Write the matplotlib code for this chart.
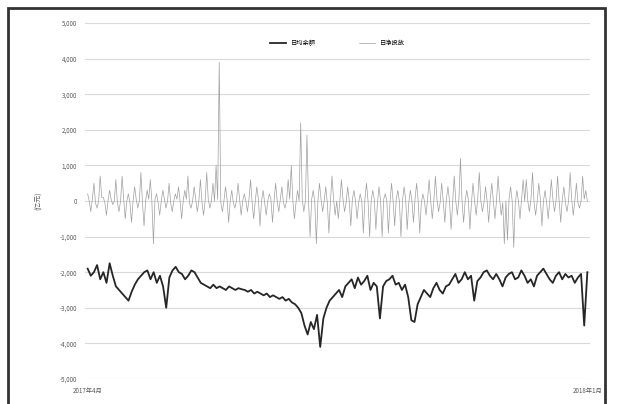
import numpy as np
import matplotlib
matplotlib.use('Agg')
import matplotlib.pyplot as plt
from matplotlib.patches import Rectangle

plt.rcParams['font.family'] = ['Noto Sans CJK SC', 'DejaVu Sans']

# valeurs (en 亿元)
daily_net = [200, 0, -300, 50, 500, -50, -200, 0, 700, 100, 100, -50, -400, 0, 300, 50, -100, 0, 600, -50,
             -300, 0, 700, 50, -500, 0, 200, -50, -600, 0, 400, 50, -200, 0, 800, -50, -700, 0, 300, 50,
             600, 0, -1200, 50, 200, -50, -400, 0, 300, 50, -200, 0, 500, -50, -300, 0, 200, 50, 400, 0,
             -500, 0, 300, 50, 700, -50, -200, 0, 400, 50, -300, 0, 600, -50, -400, 0, 800, 50, -200, 0,
             500, 0, 1000, 50, 3900, -50, -300, 0, 400, 50, -600, 0, 300, -50, -200, 0, 500, 50, -400, 0,
             200, 0, -300, 50, 600, -50, -500, 0, 400, 50, -700, 0, 300, -50, -400, 0, 200, 50, -600, 0,
             500, 0, -300, 50, 400, -50, -200, 0, 600, 50, 1000, 0, -500, -50, 300, 0, 2200, 50, -300, 0,
             1850, 0, -1000, 50, 300, -50, -1200, 0, 500, 50, -300, 0, 400, -50, -900, 0, 700, 50, -400, 0,
             -500, 0, 600, 50, -300, -50, 400, 0, -700, 50, 300, 0, -500, -50, 200, 0, -900, 50, 500, 0,
             -1000, 0, 300, 50, -800, -50, 400, 0, -1000, 50, 200, 0, -900, -50, 500, 0, -700, 50, 300, 0,
             -1000, 0, 400, 50, -800, -50, 300, 0, -600, 50, 500, 0, -900, -50, 200, 0, -400, 50, 600, 0,
             -500, 0, 700, 50, -300, -50, 500, 0, -600, 50, 400, 0, -800, -50, 700, 0, -400, 50, 1200, 0,
             -600, 0, 300, 50, -800, -50, 500, 0, -400, 50, 800, 0, -300, -50, 400, 0, -600, 50, 500, 0,
             -500, 0, 700, 50, -400, -50, -1200, 0, -1100, 50, 400, 0, -1300, -50, 300, 0, -500, 50, 600, 0,
             600, 0, -300, 50, 800, -50, -400, 0, 500, 50, -700, 0, 300, -50, -500, 0, 600, 50, -300, 0,
             700, 0, -600, 50, 400, -50, -300, 0, 800, 50, -400, 0, 500, -50, -200, 0, 700, 50, 300, 0]

cumul = [-1900, -2100, -2000, -1800, -2200, -2000, -2300, -1750, -2100, -2400,
         -2500, -2600, -2700, -2800, -2550, -2350, -2200, -2100, -2000, -1950,
         -2200, -2000, -2300, -2100, -2400, -3000, -2150, -1950, -1850, -2000,
         -2050, -2200, -2100, -1950, -2000, -2150, -2300, -2350, -2400, -2450,
         -2350, -2450, -2400, -2450, -2500, -2400, -2450, -2500, -2450, -2480,
         -2500, -2550, -2500, -2600, -2550, -2600, -2650, -2600, -2700, -2650,
         -2700, -2750, -2700, -2800, -2750, -2850, -2900, -3000, -3150, -3500,
         -3750, -3400, -3600, -3200, -4100, -3300, -3000, -2800, -2700, -2600,
         -2500, -2700, -2400, -2300, -2200, -2450, -2150, -2350, -2250, -2100,
         -2500, -2300, -2400, -3300, -2400, -2250, -2200, -2100, -2350, -2300,
         -2500, -2350, -2700, -3350, -3400, -2900, -2700, -2500, -2600, -2700,
         -2450, -2300, -2500, -2600, -2400, -2350, -2200, -2050, -2300, -2200,
         -2000, -2200, -2100, -2800, -2250, -2150, -2000, -1950, -2100, -2200,
         -2050, -2200, -2400, -2150, -2050, -2000, -2200, -2150, -1950, -2100,
         -2300, -2200, -2400, -2100, -2000, -1900, -2050, -2200, -2300, -2100,
         -2000, -2200, -2050, -2150, -2100, -2300, -2150, -2050, -3500, -2000]

x_labels = ['2017年4月', '2018年1月']
y_ticks = [5000, 4000, 3000, 2000, 1000, 0, -1000, -2000, -3000, -4000, -5000]
names = ['日均余额', '日净投放']

fig = plt.figure(figsize=(6.17, 4.04), dpi=100)
ax = fig.add_axes([0.138, 0.062, 0.818, 0.881])

x1 = np.linspace(0, 1, len(cumul))
x2 = np.linspace(0, 1, len(daily_net))
ax.plot(x1, cumul, color='#262626', lw=1.3, label=names[0])
ax.plot(x2, daily_net, color='#a0a0a0', lw=0.5, label=names[1])

ax.set_ylim(-5000, 5000)
ax.set_xlim(-0.005, 1.005)
ax.set_yticks(y_ticks)
ax.set_yticklabels(['{:,}'.format(v) for v in y_ticks], fontsize=4.5, color='#595959')
ax.set_xticks([0, 1])
ax.set_xticklabels(x_labels, fontsize=4.5, color='#595959')
ax.tick_params(length=0, pad=6)
ax.grid(axis='y', color='#d9d9d9', lw=0.8)
ax.set_axisbelow(True)
for s in ax.spines.values():
    s.set_visible(False)
ax.set_ylabel('(亿元)', fontsize=5, color='#595959', labelpad=12)

ax.legend(loc='upper center', bbox_to_anchor=(0.5, 0.97), ncol=2, frameon=False,
          fontsize=4.5, handlelength=2.5, columnspacing=7)

fig.patches.append(Rectangle((8 / 617, -0.02), 597 / 617, 1 - 8 / 404 + 0.02,
                             transform=fig.transFigure, fill=False,
                             edgecolor='#333333', lw=2))

fig.savefig('out.png', dpi=100)
